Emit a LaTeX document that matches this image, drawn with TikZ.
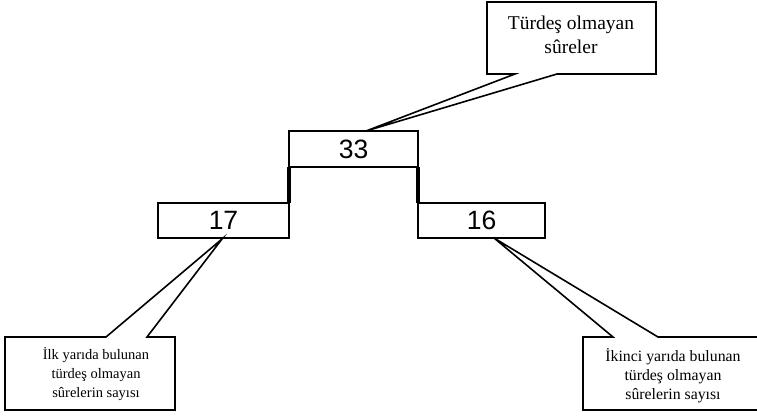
\documentclass[tikz,border=0pt]{standalone}
\usepackage{fontspec}
\setmainfont{Liberation Serif}
\newfontfamily\numfont{Liberation Sans}
\begin{document}
\begin{tikzpicture}[x=1pt,y=-1pt,line join=miter]
\tikzset{
  numbox/.style={draw,line width=1.6pt,outer sep=0pt,minimum height=36pt,inner sep=0pt,font=\numfont\fontsize{26.5}{28}\selectfont},
  callout/.style={draw,line width=1.6pt,fill=white},
  calltext/.style={align=center,inner sep=0pt},
  joinline/.style={line width=3.5pt}
}
\useasboundingbox (0,0) rectangle (757,417);
% number boxes
\node[numbox,minimum width=129pt] (b33) at (353.5,149) {33};
\node[numbox,minimum width=131pt,minimum height=35pt] (b17) at (223.5,220.5) {17};
\node[numbox,minimum width=127pt,minimum height=35pt] (b16) at (481.5,220.5) {16};
\draw[joinline] (b33.south west) -- (b17.north east);
\draw[joinline] (b33.south east) -- (b16.north west);
% callout tips
\coordinate (t33) at (366,131);
\coordinate (t17) at (222,239);
\coordinate (t16) at (494,238);
% top callout
\draw[callout] (487,2) -- (656,2) -- (656,74) -- (557,74) -- (t33) -- (515,74) -- (487,74) -- cycle;
\node[calltext,font=\fontsize{19.5}{23.5}\selectfont] (c33) at (571,35) {Türdeş olmayan\\sûreler};
% left callout
\draw[callout] (5,337) -- (106,337) -- (t17) -- (147,337) -- (175,337) -- (175,410) -- (5,410) -- cycle;
\node[calltext,font=\fontsize{14.5}{19}\selectfont] (c17) at (96,374) {İlk yarıda bulunan\\türdeş olmayan\\sûrelerin sayısı};
% right callout
\draw[callout] (583,337) -- (613,337) -- (t16) -- (658,337) -- (762,337) -- (762,410) -- (583,410) -- cycle;
\node[calltext,font=\fontsize{15.8}{19}\selectfont] (c16) at (673,376) {İkinci yarıda bulunan\\türdeş olmayan\\sûrelerin sayısı};
\end{tikzpicture}
\end{document}
